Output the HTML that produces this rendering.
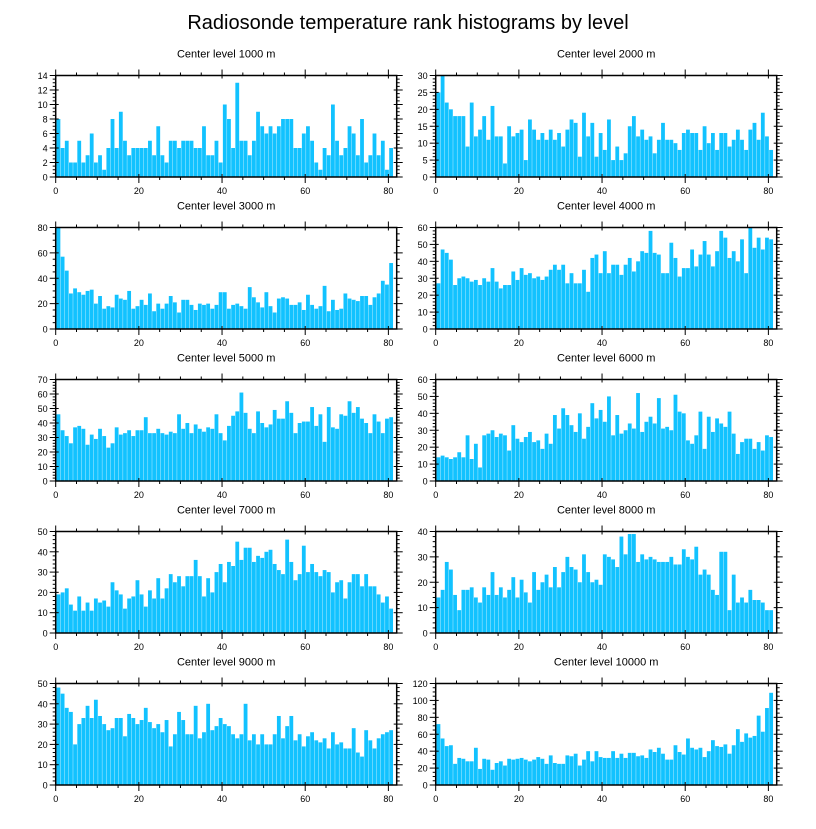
<!DOCTYPE html>
<html><head><meta charset="utf-8"><style>
html,body{margin:0;padding:0;background:#fff;}
svg text{font-family:"Liberation Sans",sans-serif;fill:#000;}
</style></head><body>
<svg id="chart" width="816" height="824" viewBox="0 0 816 824" xmlns="http://www.w3.org/2000/svg">
<text x="408" y="29" text-anchor="middle" font-size="20">Radiosonde temperature rank histograms by level</text>
</svg>
<script>
const levels = [1000,2000,3000,4000,5000,6000,7000,8000,9000,10000];
const yMax = [14,30,80,60,70,60,50,40,50,120];
const yStep = [2,5,20,10,10,10,10,10,10,20];
const xTicks = [0,20,40,60,80];
const h1000 = [8,4,5,2,2,5,2,3,6,2,3,1,4,8,4,9,5,3,4,4,4,4,5,3,7,3,2,5,5,4,5,5,5,4,4,7,3,3,5,2,10,8,4,13,5,5,3,5,9,7,6,7,6,7,8,8,8,4,4,6,7,5,2,1,4,3,10,5,3,4,7,6,3,8,2,3,6,3,5,1,4];
const h2000 = [25,30,22,20,18,18,18,9,22,12,14,18,11,21,12,12,4,15,12,13,14,5,17,14,11,13,11,14,11,13,9,14,17,16,6,19,12,16,6,13,8,17,5,9,5,7,15,18,12,14,11,12,7,11,16,11,11,10,8,13,14,13,13,8,15,10,13,8,13,13,9,11,14,11,8,14,16,11,19,12,8];
const h3000 = [80,57,46,28,32,29,27,30,31,20,26,16,18,17,27,24,23,30,16,18,23,19,28,14,20,16,20,26,21,13,23,23,19,15,20,19,20,16,19,29,29,16,19,20,18,16,33,25,21,17,29,18,13,24,25,24,19,19,21,15,27,19,16,18,34,14,23,15,16,28,24,23,22,26,26,19,25,28,38,35,52];
const h4000 = [27,47,45,41,26,30,31,30,28,29,26,30,28,36,28,24,26,26,34,29,36,32,33,30,31,29,31,35,38,35,38,27,33,27,27,35,22,42,44,33,46,33,38,38,32,38,42,34,40,46,45,58,45,44,33,33,51,42,31,36,36,47,37,44,52,44,37,46,58,54,42,46,40,53,33,60,48,54,47,54,53];
const h5000 = [46,35,31,26,37,38,36,25,32,29,36,31,23,26,37,32,33,35,31,35,35,44,33,33,36,33,32,34,33,46,36,40,33,39,36,34,37,36,46,33,28,38,45,48,61,47,36,33,48,40,37,39,49,43,43,55,47,33,40,41,41,51,38,46,27,51,37,36,46,45,55,47,51,43,40,33,46,41,33,43,44];
const h6000 = [14,15,14,13,14,17,14,27,13,22,8,27,28,30,26,28,27,18,33,25,23,26,29,23,24,19,28,22,39,31,43,39,33,29,40,25,32,46,37,42,35,50,27,39,28,30,34,31,52,29,35,38,34,49,31,32,30,51,41,40,24,22,27,41,19,38,29,37,34,32,41,28,16,23,25,25,19,23,18,27,26];
const h7000 = [19,20,22,14,11,18,11,15,11,17,15,16,13,25,21,19,12,17,18,26,19,13,21,17,27,17,22,29,25,28,23,28,28,36,28,18,27,20,30,34,25,35,33,45,36,42,42,35,38,37,40,41,34,31,29,46,35,26,29,43,30,34,30,28,31,30,20,25,26,17,25,29,29,23,29,23,23,19,15,18,12];
const h8000 = [14,17,28,25,15,9,17,17,18,14,12,18,15,24,15,18,14,17,22,14,21,16,12,24,17,20,23,18,26,18,24,30,26,25,20,31,24,20,21,19,31,30,29,26,38,31,39,39,28,31,29,30,29,28,28,28,30,27,27,33,30,29,34,23,25,23,17,15,32,32,9,23,12,14,12,17,13,13,12,9,9];
const h9000 = [48,45,38,36,20,30,33,39,33,42,34,30,27,28,33,33,24,35,33,30,32,38,31,28,30,26,32,19,25,36,32,25,25,39,23,26,40,27,29,33,30,29,25,23,25,40,22,25,20,25,20,20,25,34,23,29,34,22,25,19,24,26,22,21,23,18,26,20,21,18,18,28,16,14,27,22,18,23,25,26,27];
const h10000 = [72,55,46,47,25,32,31,28,28,44,19,31,30,18,26,28,23,31,30,31,32,30,28,30,33,31,25,35,26,25,25,35,34,37,23,30,40,28,40,33,32,32,40,32,37,32,38,38,34,35,32,42,39,44,37,30,30,47,39,36,55,44,42,44,33,40,53,46,45,48,37,47,66,51,61,56,58,82,63,91,109];
const series = [h1000,h2000,h3000,h4000,h5000,h6000,h7000,h8000,h9000,h10000];

const NS = "http://www.w3.org/2000/svg";
const svg = document.getElementById('chart');
function mk(tag, attrs, parent){
  const e = document.createElementNS(NS, tag);
  for (const k in attrs) e.setAttribute(k, attrs[k]);
  parent.appendChild(e);
  return e;
}
const X_MAX = 82;
series.forEach((vals, p) => {
  const col = p % 2, row = Math.floor(p / 2);
  const left = col === 0 ? 55.7 : 435.7;
  const width = 341;
  const top = 75.5 + row * 152;
  const height = 101.5;
  const bottom = top + height;
  const xs = v => left + v / X_MAX * width;
  const ys = v => bottom - v / yMax[p] * height;
  const g = mk('g', {}, svg);
  
  
  const t = mk('text', {x: left + width / 2, y: top - 18, 'text-anchor': 'middle', 'font-size': '11'}, g);
  t.textContent = 'Center level ' + levels[p] + ' m';
  
  
  vals.forEach((v, i) => {
    const x0 = xs(i + 0.2), x1 = xs(i + 1.2);
    const r = mk('rect', {x: x0, y: ys(v), width: Math.max(0, x1 - x0 - 0.35), height: bottom - ys(v), fill: '#12c2ff'}, g);
    
    
  });
  const fr = mk('rect', {x: left, y: top, width: width, height: height, fill: 'none', stroke: '#000', 'stroke-width': 1.5}, g);
  
  
  for (let v = 0; v <= 82; v += 5) {
    const major = v % 20 === 0;
    const x = xs(v);
    const o = major ? 6 : 3, inn = major ? 3 : 0;
    mk('line', {x1: x, x2: x, y1: bottom - inn, y2: bottom + o, stroke: '#000', 'stroke-width': 1}, g);
    mk('line', {x1: x, x2: x, y1: top + inn, y2: top - o, stroke: '#000', 'stroke-width': 1}, g);
  }
  xTicks.forEach(v => {
    const tl = mk('text', {x: xs(v), y: bottom + 17, 'text-anchor': 'middle', 'font-size': '9'}, g);
    tl.textContent = v;
    
    
  });
  const st = yStep[p];
  const minor = (st === 5 || st === 10) ? st / 5 : st / 4;
  for (let k = 0; k * minor <= yMax[p] + 1e-9; k++) {
    const v = k * minor;
    const y = ys(v);
    const major = Math.abs(v / st - Math.round(v / st)) < 1e-9;
    const o = major ? 6 : 3, inn = major ? 3 : 0;
    mk('line', {x1: left + inn, x2: left - o, y1: y, y2: y, stroke: '#000', 'stroke-width': 1}, g);
    mk('line', {x1: left + width - inn, x2: left + width + o, y1: y, y2: y, stroke: '#000', 'stroke-width': 1}, g);
    if (major) {
      const yl = mk('text', {x: left - 8, y: y + 3.5, 'text-anchor': 'end', 'font-size': '9'}, g);
      yl.textContent = v;
      
      
    }
  }
});
</script>
</body></html>
